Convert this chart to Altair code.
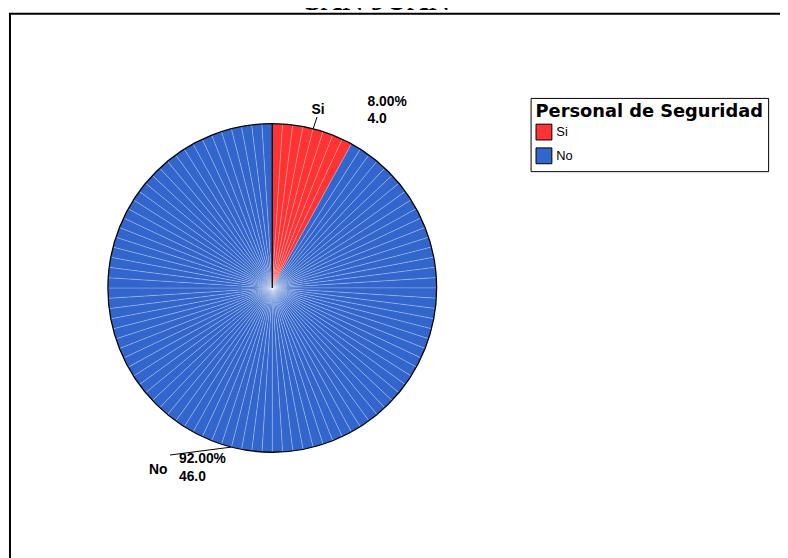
import math
import altair as alt
import pandas as pd

# ---------------- data ----------------
categories = ["Si", "No"]
counts = [4, 46]
percents = [8.00, 92.00]
colors = ["#FF3333", "#3366CC"]
title_text = "SAN JUAN"
legend_title = "Personal de Seguridad"

# ---------------- layout (pixels inside the svg) ----------------
W, H = 780, 550
CX, CY, R = 267, 280, 166
LABEL_R = 186

total = sum(percents)

# one thin wedge per percentage point, as in the original rendering
rows = []
k = 0
for c, p in zip(categories, percents):
    for _ in range(int(round(p))):
        rows.append({"cat": c, "ord": k, "v": 1})
        k += 1
wedges = pd.DataFrame(rows)

labels = pd.DataFrame({"cat": categories, "pct": percents, "n": counts})
labels["pct_txt"] = labels["pct"].map(lambda v: f"{v:.2f}%")
labels["n_txt"] = labels["n"].map(lambda v: f"{v:.1f}")
labels["mid"] = labels["pct"].cumsum() - labels["pct"] / 2

# leader lines: from pie edge at the slice's mid-angle outward
leader_off = {"Si": (4, -12), "No": (-62, 8)}
lx, ly, lx2, ly2 = [], [], [], []
for c, m in zip(labels["cat"], labels["mid"]):
    a = m / total * 2 * math.pi
    sx = CX + R * math.sin(a)
    sy = CY - R * math.cos(a)
    lx.append(sx); ly.append(sy)
    lx2.append(sx + leader_off[c][0]); ly2.append(sy + leader_off[c][1])
labels["lx"], labels["ly"], labels["lx2"], labels["ly2"] = lx, ly, lx2, ly2

theta_scale = alt.Scale(domain=[0, total])
FONT = "Liberation Sans"

frame = alt.Chart(alt.Data(values=[{"a": 1}])).mark_rect(
    fillOpacity=0, stroke="black", strokeWidth=2
).encode(x=alt.value(2), x2=alt.value(1000), y=alt.value(3), y2=alt.value(900))

title = alt.Chart(alt.Data(values=[{"t": title_text}])).mark_text(
    font="Liberation Serif", fontWeight="bold", fontSize=30, baseline="alphabetic", align="center"
).encode(x=alt.value(373), y=alt.value(-1), text="t:N")

pie = alt.Chart(wedges).mark_arc(
    radius=R, stroke="white", strokeWidth=0.5, strokeOpacity=0.45
).encode(
    theta=alt.Theta("v:Q", stack=True, scale=theta_scale),
    order=alt.Order("ord:Q"),
    color=alt.Color(
        "cat:N",
        scale=alt.Scale(domain=categories, range=colors),
        sort=categories,
        legend=alt.Legend(
            title=legend_title, orient="none", legendX=528, legendY=88,
            symbolType="square", symbolSize=256, symbolStrokeColor="black",
            symbolStrokeWidth=1, symbolOpacity=1,
            titleFont="DejaVu Sans", titleFontSize=18, titleFontWeight="bold", titleColor="black",
            labelFont=FONT, labelFontSize=13, labelColor="black",
            padding=5, strokeColor="black", fillColor="white",
            titlePadding=3, rowPadding=3, labelOffset=4, titleLimit=400,
        ),
    ),
    x=alt.value(CX), y=alt.value(CY),
)

outline = alt.Chart(alt.Data(values=[{"v": total}])).mark_arc(
    radius=R, fillOpacity=0, stroke="black", strokeWidth=1.3
).encode(
    theta=alt.Theta("v:Q", stack=True, scale=theta_scale),
    x=alt.value(CX), y=alt.value(CY),
)

start_line = alt.Chart(alt.Data(values=[{"a": 1}])).mark_rule(
    color="black", strokeWidth=1.3
).encode(x=alt.value(CX), y=alt.value(CY - R), y2=alt.value(CY))

leaders = alt.Chart(labels).mark_rule(color="black", strokeWidth=1).encode(
    x=alt.X("lx:Q", scale=None), y=alt.Y("ly:Q", scale=None),
    x2="lx2:Q", y2="ly2:Q",
)

def label_layer(cat, field, align, dx, dy):
    return alt.Chart(labels).transform_filter(
        alt.datum.cat == cat
    ).mark_text(
        font=FONT, fontWeight="bold", fontSize=14, color="black",
        align=align, baseline="middle", dx=dx, dy=dy, radius=LABEL_R,
    ).encode(
        theta=alt.Theta("mid:Q", stack=False, scale=theta_scale),
        text=f"{field}:N",
        x=alt.value(CX), y=alt.value(CY),
    )

text_layers = [
    label_layer("Si", "cat", "center", 0, 0),
    label_layer("Si", "pct_txt", "left", 50, -8),
    label_layer("Si", "n_txt", "left", 50, 10),
    label_layer("No", "cat", "center", -69, 4),
    label_layer("No", "pct_txt", "left", -48, -7),
    label_layer("No", "n_txt", "left", -48, 11),
]

chart = alt.layer(
    frame, title, pie, outline, start_line, leaders, *text_layers
).properties(
    width=W, height=H, autosize=alt.AutoSizeParams(type="none"), padding=0
).configure_view(stroke=None)

chart.save("out.html", embed_options={"renderer": "svg", "actions": False})
